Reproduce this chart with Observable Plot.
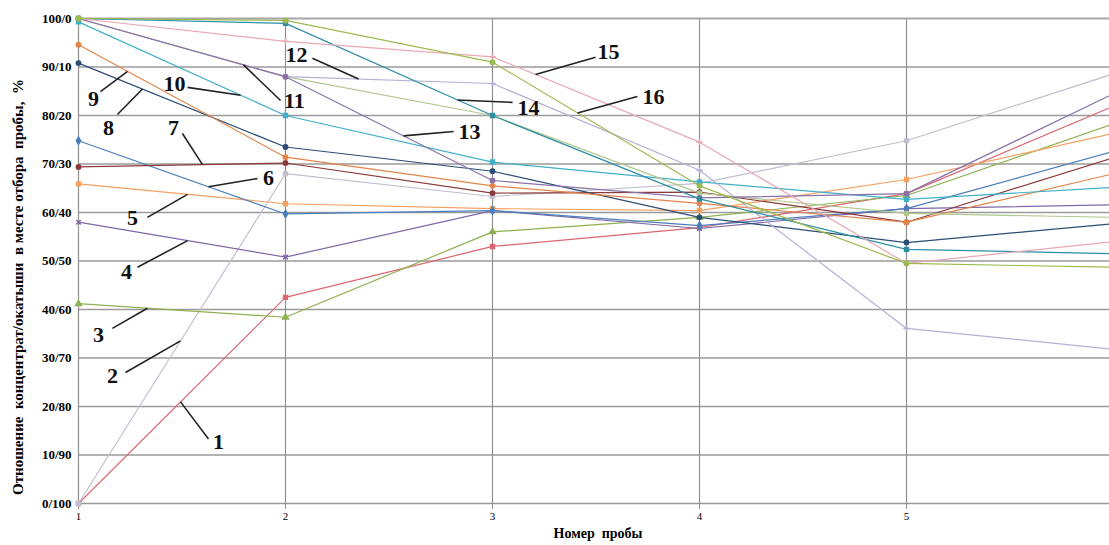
<!DOCTYPE html>
<html><head><meta charset="utf-8">
<script src="https://cdn.jsdelivr.net/npm/d3@7"></script>
<script src="https://cdn.jsdelivr.net/npm/@observablehq/plot@0.6"></script>
<style>body{margin:0;background:#fff;overflow:hidden}</style>
</head><body><div id="chart"></div><script>
// Sample numbers (x) and tick values
const xs = [1, 2, 3, 4, 5, 6];
const xTicks = [1, 2, 3, 4, 5];
const yTicks = [0, 10, 20, 30, 40, 50, 60, 70, 80, 90, 100];

// Series (labels 1..16), concentrate share %
const labels = ["1","2","3","4","5","6","7","8","9","10","11","12","13","14","15","16"];
const s1  = [0, 42.5, 53.0, 56.9, 63.9, 81.9];
const s2  = [0, 68.0, 63.3, 66.0, 74.8, 88.6];
const s3  = [41.2, 38.4, 56.0, 59.0, 63.5, 78.3];
const s4  = [58.0, 50.8, 60.4, 56.7, 60.8, 61.6];
const s5  = [65.9, 61.8, 60.8, 60.4, 66.8, 76.3];
const s6  = [74.8, 59.7, 60.4, 57.3, 60.8, 72.6];
const s7  = [69.4, 70.2, 64.0, 64.2, 58.0, 71.3];
const s8  = [90.8, 73.5, 68.5, 59.0, 53.8, 57.7];
const s9  = [94.6, 71.4, 65.5, 61.9, 58.0, 68.0];
const s10 = [99.3, 80.0, 70.4, 66.3, 62.7, 65.2];
const s11 = [100, 88.0, 80.0, 64.0, 59.8, 59.0];
const s12 = [100, 88.0, 86.6, 68.7, 36.1, 31.8];
const s13 = [100, 88.0, 66.6, 63.0, 63.9, 84.5];
const s14 = [100, 99.0, 80.0, 62.8, 52.4, 51.5];
const s15 = [100, 95.3, 92.1, 74.5, 49.5, 54.0];
const s16 = [100, 99.6, 91.0, 65.5, 49.5, 48.7];
const allSeries = [s1,s2,s3,s4,s5,s6,s7,s8,s9,s10,s11,s12,s13,s14,s15,s16];

const colors = ["#DB6570","#C4BFD0","#8DB050","#7F68A6","#F5A060","#4A7EBB","#8B3A3A","#2C4D75",
                "#E3844A","#40B0C8","#B2C68E","#B6B0D4","#8A72A8","#2E8FA3","#E8A9B4","#9CBB4E"];
const symbols = ["square","circle","triangle","times","square","diamond","circle","circle",
                 "circle","square","circle","plus","circle","square","plus","circle"];

// Callout annotations (data units): text position, leader start, leader target x on the series
const calloutX  = [1.676,1.164,1.097,1.232,1.261,1.918,1.459,1.145,1.072,1.464,2.043,2.053,2.889,3.174,3.560,3.778];
const calloutY  = [12.6,26.4,34.8,47.8,58.8,67.2,77.5,77.5,83.5,86.6,83.1,92.4,76.7,81.6,93.0,83.9];
const leaderX1  = [1.628,1.227,1.164,1.285,1.333,1.865,1.502,1.188,1.106,1.527,1.976,2.130,2.812,3.097,3.498,3.700];
const leaderY1  = [13.3,27.0,36.1,48.7,59.0,67.0,76.3,80.2,84.9,85.8,83.1,91.8,76.7,82.7,92.0,83.9];
const leaderTX  = [1.493,1.493,1.333,1.527,1.527,1.628,1.599,1.309,1.237,1.783,1.797,2.353,2.570,2.831,3.208,3.411];

const yTitle = "Отношение\u00a0 концентрат/окатыши\u00a0 в месте отбора\u00a0 пробы,\u00a0 %";
const xTitle = "Номер\u00a0 пробы";

const rows = [];
allSeries.forEach((vals, i) => vals.forEach((v, j) => rows.push({series: labels[i], x: xs[j], y: v})));

function interp(vals, x) {
  const j = Math.min(Math.floor(x) - 1, vals.length - 2);
  const t = x - xs[j];
  return vals[j] + (vals[j + 1] - vals[j]) * t;
}
const leaders = labels.map((l, i) => ({x1: leaderX1[i], y1: leaderY1[i], x2: leaderTX[i], y2: interp(allSeries[i], leaderTX[i])}));
const callouts = labels.map((l, i) => ({text: l, x: calloutX[i], y: calloutY[i]}));

const chart = Plot.plot({
  width: 1109, height: 545,
  marginLeft: 78, marginRight: 0, marginTop: 18, marginBottom: 42,
  style: {fontFamily: "'Liberation Serif', 'Times New Roman', serif", background: "#fff", color: "#000", overflow: "hidden"},
  x: {domain: [1, 6], range: [78, 1113]},
  y: {domain: [0, 100]},
  color: {domain: labels, range: colors},
  symbol: {domain: labels, range: symbols},
  marks: [
    Plot.ruleY(yTicks.filter(d => d > 0 && d < 100), {stroke: "#9a9a9a", strokeWidth: 1.3}),
    Plot.ruleX(xTicks, {y1: 0, y2: 100, stroke: "#8f8f8f", strokeWidth: 1.2}),
    Plot.ruleY([0], {stroke: "#999", strokeWidth: 1.5}),
    Plot.ruleY([100], {stroke: "#a6a6a6", strokeWidth: 2.2}),
    Plot.axisX({ticks: xTicks, tickSize: 6, stroke: "#8f8f8f", fill: "#000", tickPadding: 3, fontSize: 11, tickFormat: d => String(d), label: null}),
    Plot.axisY({ticks: yTicks, tickSize: 0, tickPadding: 7, fontSize: 13, fontWeight: "bold", fill: "#000", tickFormat: d => `${d}/${100 - d}`, label: null}),
    Plot.line(rows, {x: "x", y: "y", z: "series", stroke: "series", strokeWidth: 1.2}),
    Plot.dot(rows, {x: "x", y: "y", fill: "series", stroke: "series", symbol: "series", r: 2.2}),
    Plot.link(leaders, {x1: "x1", y1: "y1", x2: "x2", y2: "y2", stroke: "#222", strokeWidth: 1.6}),
    Plot.text(callouts, {x: "x", y: "y", text: "text", fontSize: 22, fontWeight: "bold", fill: "#111"}),
    Plot.text([yTitle], {frameAnchor: "left", textAnchor: "middle", rotate: -90, dx: -60, dy: 26, fontSize: 15, fontWeight: "bold", fill: "#000"}),
    Plot.text([xTitle], {frameAnchor: "bottom", textAnchor: "middle", dx: 4, dy: 34, fontSize: 14, fontWeight: "bold", fill: "#000"})
  ]
});
document.getElementById("chart").append(chart);
</script></body></html>
